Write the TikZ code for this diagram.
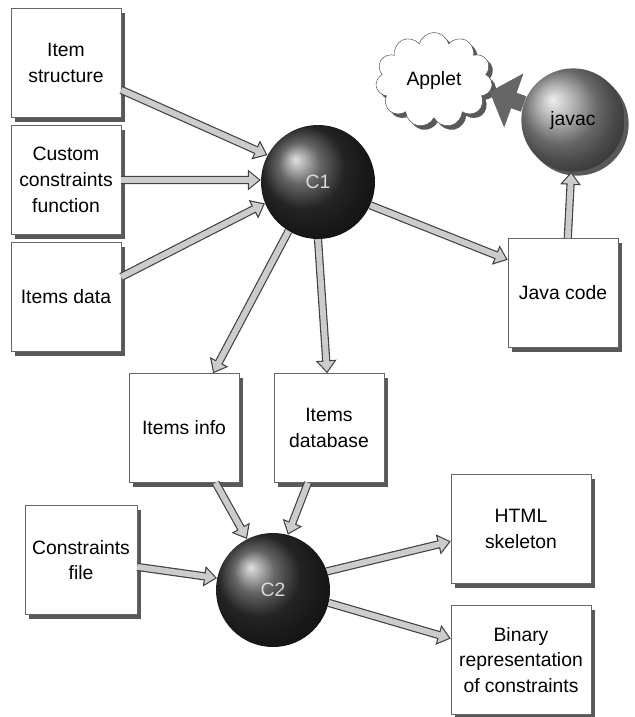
\documentclass[tikz,border=0pt]{standalone}
\usepackage{fontspec}
\setmainfont{Liberation Sans}
\usetikzlibrary{arrows.meta}
\usetikzlibrary{shadows}
\usetikzlibrary{shapes.symbols}
\usetikzlibrary{positioning}

\tikzset{
	flow/.style={draw=black!75, line width=7pt, -{Triangle[length=11pt,width=17pt]},
		postaction={draw=black!20, line width=5pt, shorten >=1.6pt, -{Triangle[length=8.4pt,width=13pt]}}},
	fatflow/.style={draw=black!60, line width=14pt, -{Triangle[length=22pt,width=48pt]}},
	boxshadow/.style={drop shadow={shadow xshift=0.12cm, shadow yshift=-0.12cm, opacity=1, fill=black!65}}
}

\begin{document}
\begin{tikzpicture}[x=0.03cm, y=-0.03cm]
	\useasboundingbox (0,0) rectangle (634,717);
	\begin{scope}[every node/.style={rectangle, draw=black!60, fill=white, align=center, boxshadow,
	              minimum width=3.3cm, minimum height=3.27cm, font=\fontsize{16.5}{22}\selectfont}]
		\node (itemstr) at (66,63) {Item\\structure};
		\node (custom) at (66,180) {Custom\\constraints\\function};
		\node (itemsdata) at (66,297) {Items data};
		\node (javacode) at (563,293) {Java code};
		\node (itemsinfo) at (184,428) {Items info};
		\node (itemsdb) at (329,428) {Items\\database};
		\node[minimum width=3.36cm] (constr) at (81,560) {Constraints\\file};
		\node[minimum width=4.2cm] (html) at (521,529) {HTML\\skeleton};
		\node[minimum width=4.2cm] (binary) at (521,660) {Binary\\representation\\of constraints};
	\end{scope}

	\begin{scope}[every node/.style={circle, shading=ball, minimum size=3.42cm, font=\fontsize{16.5}{18}\selectfont}]
		\node[ball color=black!80, text=white!85!black] (c1) at (318,182) {C1};
		\node[ball color=black!80, text=white!85!black] (c2) at (273,590) {C2};
		\node[ball color=black!42, minimum size=3.1cm, boxshadow] (javac) at (573,120) {javac};
	\end{scope}

	\node[cloud, cloud puffs=11, cloud ignores aspect, draw=black!70, fill=white, boxshadow,
	      minimum width=3.5cm, minimum height=2.85cm, font=\fontsize{16.5}{18}\selectfont] (applet) at (434,80) {Applet};

	\path (javac.162) edge[fatflow] (applet.-12);

	\begin{scope}[every edge/.style={flow}]
		\path (itemstr.-26) edge (c1.152);
		\path (custom.east) edge (c1.178);
		\path (itemsdata.20) edge (c1.202);
		\path (c1.336) edge (javacode.149);
		\path (c1.239) edge (itemsinfo.62);
		\path (c1.270) edge (itemsdb.92);
		\path (javacode.85) edge (javac.268);
		\path (itemsinfo.-60) edge (c2.117);
		\path (itemsdb.-111) edge (c2.75);
		\path (constr.-7) edge (c2.168);
		\path (c2.19) edge (html.190);
		\path (c2.-13) edge (binary.163);
	\end{scope}
\end{tikzpicture}
\end{document}
